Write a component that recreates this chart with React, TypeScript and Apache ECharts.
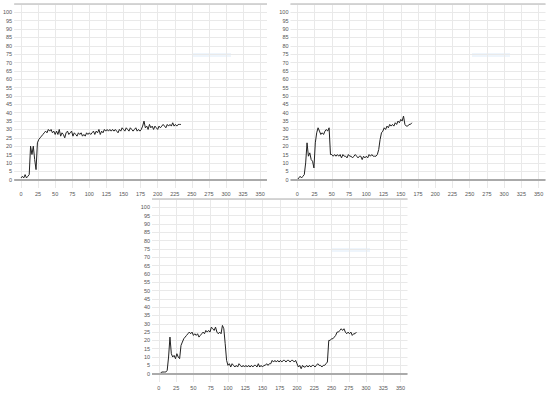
import React, { useEffect, useRef } from "react";
import * as echarts from "echarts";

// sampling step of each trace (x units between consecutive readings)
const STEP = 2;

const seriesA: number[] = [
  1, 2, 1, 3, 1, 2, 3, 20, 15, 20, 12, 6, 22, 24, 25, 26, 27, 28, 29, 28,
  30, 29, 30, 28, 29, 27, 29, 27, 30, 26, 28, 27, 25, 28, 29, 27, 28, 29, 26, 28,
  27, 26, 28, 27, 28, 26, 27, 26, 28, 27, 28, 27, 28, 29, 27, 29, 28, 30, 27, 29,
  28, 30, 29, 30, 29, 30, 29, 30, 29, 30, 29, 28, 30, 29, 31, 30, 29, 31, 30, 29,
  31, 30, 29, 30, 31, 29, 30, 29, 30, 32, 35, 31, 32, 30, 33, 31, 32, 30, 32, 31,
  30, 32, 31, 32, 33, 32, 31, 33, 32, 33, 32, 34, 32, 33, 32, 33, 33, 33,
];

const seriesB: number[] = [
  0, 1, 2, 1, 2, 3, 10, 22, 14, 16, 12, 11, 7, 22, 28, 31, 29, 27, 28, 27,
  29, 30, 29, 31, 15, 15, 14, 15, 14, 15, 14, 15, 13, 15, 14, 14, 13, 15, 14, 14,
  13, 14, 15, 14, 13, 14, 14, 12, 14, 13, 14, 13, 15, 14, 15, 14, 14, 14, 15, 18,
  24, 28, 29, 31, 30, 32, 31, 33, 32, 33, 32, 34, 33, 35, 34, 36, 35, 38, 33, 32,
  32, 33, 33, 34,
];

const seriesC: number[] = [
  0, 0, 1, 1, 1, 1, 2, 10, 22, 12, 10, 11, 9, 12, 10, 9, 17, 19, 21, 22,
  23, 24, 25, 24, 25, 23, 24, 23, 24, 22, 23, 24, 25, 24, 26, 25, 26, 25, 28, 27,
  26, 28, 25, 24, 25, 24, 29, 27, 18, 8, 5, 6, 4, 6, 5, 4, 5, 4, 6, 5,
  4, 5, 4, 5, 4, 5, 4, 5, 4, 5, 5, 4, 6, 4, 5, 4, 5, 5, 6, 5,
  6, 6, 8, 7, 8, 7, 8, 7, 8, 7, 8, 8, 7, 8, 8, 7, 8, 8, 7, 8,
  6, 4, 5, 3, 5, 4, 4, 5, 4, 5, 4, 5, 5, 4, 5, 6, 5, 5, 4, 5,
  5, 6, 7, 20, 20, 21, 21, 22, 23, 25, 25, 26, 27, 26, 27, 25, 24, 25, 24, 25,
  23, 24, 24, 25,
];

const X_MIN = -10;
const X_MAX = 360;
const Y_MIN = -5;
const Y_MAX = 105;
const X_LABEL_STEP = 25;
const X_LABEL_MAX = 350;
const Y_LABEL_MAX = 100;

const panels = [
  { data: seriesA, grid: { left: 12, top: 4, width: 255, height: 184 } },
  { data: seriesB, grid: { left: 290.5, top: 4, width: 255, height: 184 } },
  { data: seriesC, grid: { left: 152, top: 199, width: 255.5, height: 183 } },
];

const toPairs = (vals: number[]) => vals.map((v, i) => [i * STEP, v]);

export default function App() {
  const ref = useRef<HTMLDivElement>(null);
  useEffect(() => {
    if (!ref.current) return;
    const chart = echarts.init(ref.current, undefined, { renderer: "svg" });
    const grid = "#e9e9e9";
    const T = "rgba(0,0,0,0)";
    const labelStyle = {
      color: "#555",
      fontSize: 5.5,
      fontFamily: "Liberation Sans, Arial, sans-serif",
    };
    const yColors: string[] = [];
    for (let v = Y_MIN; v <= Y_MAX; v += 5) yColors.push(v < 0 ? T : grid);

    chart.setOption({
      animation: false,
      grid: panels.map((p) => ({ ...p.grid, containLabel: false })),
      xAxis: panels.map((_, i) => ({
        type: "value",
        gridIndex: i,
        min: X_MIN,
        max: X_MAX,
        interval: 5,
        axisLine: { show: false },
        axisTick: { show: false },
        axisLabel: {
          ...labelStyle,
          margin: 3,
          formatter: (v: number) =>
            v >= 0 && v <= X_LABEL_MAX && v % X_LABEL_STEP === 0 ? String(v) : "",
        },
        splitLine: { show: true, lineStyle: { color: [T, T, grid, T, T], width: 1 } },
      })),
      yAxis: panels.map((_, i) => ({
        type: "value",
        gridIndex: i,
        min: Y_MIN,
        max: Y_MAX,
        interval: 5,
        axisLine: { show: false },
        axisTick: { show: false },
        axisLabel: {
          ...labelStyle,
          margin: 2,
          formatter: (v: number) => (v >= 0 && v <= Y_LABEL_MAX ? String(v) : ""),
        },
        splitLine: { show: true, lineStyle: { color: yColors, width: 1 } },
      })),
      series: panels.map((p, i) => ({
        type: "line",
        xAxisIndex: i,
        yAxisIndex: i,
        data: toPairs(p.data),
        showSymbol: false,
        symbol: "none",
        lineStyle: { color: "#222", width: 1 },
        markLine: {
          silent: true,
          symbol: "none",
          label: { show: false },
          data: [
            { yAxis: 0, lineStyle: { color: "#aaa", width: 2, type: "solid" } },
            { yAxis: Y_MAX, lineStyle: { color: "#c8c8c8", width: 1.5, type: "solid" } },
          ],
        },
      })),
      graphic: [
        { type: "rect", shape: { x: 193, y: 53, width: 38, height: 4 }, style: { fill: "#eef5fc" } },
        { type: "rect", shape: { x: 472, y: 53, width: 38, height: 4 }, style: { fill: "#eef5fc" } },
        { type: "rect", shape: { x: 331, y: 248, width: 39, height: 4 }, style: { fill: "#eef5fc" } },
      ],
    });
    return () => chart.dispose();
  }, []);
  return (
    <div
      ref={ref}
      style={{ position: "absolute", left: 0, top: 0, width: 550, height: 393, background: "#fff" }}
    />
  );
}
